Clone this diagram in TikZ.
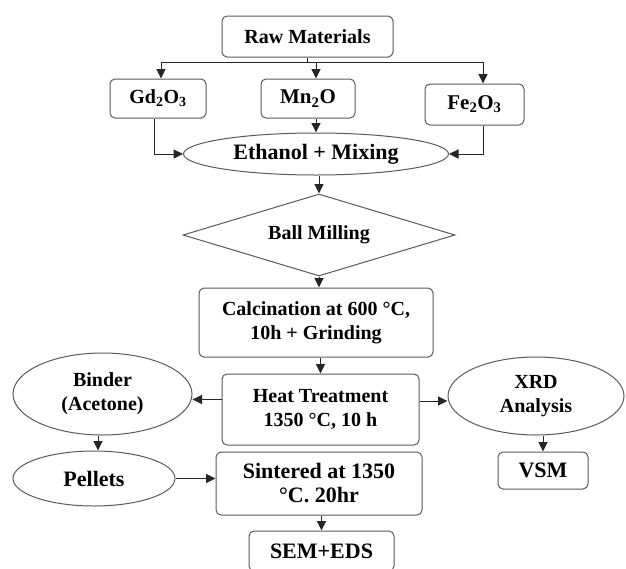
\documentclass[tikz,border=0pt]{standalone}
\usepackage{fontspec}
\setmainfont{Liberation Serif}
\usetikzlibrary{shapes.geometric,arrows.meta}
\begin{document}
\begin{tikzpicture}[x=1pt,y=-1pt,
  fz/.style={font=\bfseries\fontsize{#1}{24}\selectfont},
  box/.style={draw=black!65, line width=1pt, rounded corners=5pt, rectangle, inner sep=0pt, align=center},
  ell/.style={draw=black!65, line width=1pt, ellipse, inner sep=0pt, align=center},
  dmd/.style={draw=black!65, line width=1pt, diamond, aspect=3.3, inner sep=0pt, align=center},
  arr/.style={draw=black!85, line width=1pt, -{Triangle[length=9.5pt,width=9pt]}},
  ln/.style={draw=black!85, line width=1pt}]
\useasboundingbox (0,0) rectangle (626,568);
\node[box,fz=20,minimum width=171pt,minimum height=41pt] (raw) at (307.5,36.5) {Raw Materials};
\node[box,fz=20,minimum width=96pt,minimum height=39pt] (gd) at (158,98.5) {Gd\textsubscript{2}O\textsubscript{3}};
\node[box,fz=21,minimum width=94pt,minimum height=39pt] (mn) at (308,98.5) {Mn\textsubscript{2}O};
\node[box,fz=21,minimum width=99pt,minimum height=41pt] (fe) at (474.5,104.5) {Fe\textsubscript{2}O\textsubscript{3}};
\node[ell,fz=22,minimum width=265pt,minimum height=42pt] (eth) at (316,154) {Ethanol + Mixing};
\node[dmd,fz=20,minimum width=272pt,minimum height=82pt] (dia) at (319,235) {Ball Milling};
\node[box,fz=20,minimum width=234pt,minimum height=69pt] (calc) at (316,322.5) {Calcination at 600 °C,\\10h + Grinding};
\node[box,fz=20,minimum width=197pt,minimum height=71pt] (heat) at (320.5,409.5) {Heat Treatment\\1350 °C, 10 h};
\node[ell,fz=20,minimum width=179pt,minimum height=82pt] (binder) at (102.5,394) {Binder\\(Acetone)};
\node[ell,fz=20,minimum width=176pt,minimum height=78pt] (xrd) at (536,396) {XRD\\Analysis};
\node[ell,fz=22,minimum width=162pt,minimum height=55pt] (pel) at (94,478.5) {Pellets};
\node[box,fz=22,minimum width=206pt,minimum height=63pt] (sint) at (319,483.5) {Sintered at 1350\\°C. 20hr};
\node[box,fz=22,minimum width=90pt,minimum height=37pt] (vsm) at (543,470.5) {VSM};
\node[box,fz=22,minimum width=145pt,minimum height=40pt] (sem) at (321.5,551) {SEM+EDS};
% split from raw materials
\coordinate (sL) at (161,62);
\coordinate (sR) at (483,62);
\draw[ln] (sL) -- (sR);
\draw[ln] (raw.south) -- (raw.south |- sL);
\draw[arr] (sL) -- (sL |- gd.north);
\draw[arr] (mn.north -| eth.north) ++(0,-17) -- (mn.north -| eth.north);
\draw[arr] (sR) -- (sR |- fe.north);
% into mixing
\draw[arr] ([xshift=-4pt]gd.south) |- (eth.west);
\draw[arr] ([xshift=8.5pt]fe.south) |- (eth.east);
\draw[arr] (mn.south -| eth.north) -- (eth.north);
% main column
\draw[arr] (eth.south -| dia.north) -- (dia.north);
\draw[arr] (dia.south) -- (dia.south |- calc.north);
\draw[arr] (calc.south -| heat.north) -- (heat.north);
\draw[arr] ([yshift=10pt]heat.west) -- ([yshift=10pt]heat.west -| binder.east);
\draw[arr] ([yshift=8.5pt]heat.east) -- ([yshift=8.5pt]heat.east -| xrd.west);
\draw[arr] ([xshift=-4.5pt]binder.south) -- ([xshift=-4.5pt]binder.south |- pel.north);
\draw[arr] (pel.east) -- (pel.east -| sint.west);
\draw[arr] (sint.south -| sem.north) -- (sem.north);
\draw[arr] (xrd.south -| vsm.north) -- (vsm.north);
\end{tikzpicture}
\end{document}
